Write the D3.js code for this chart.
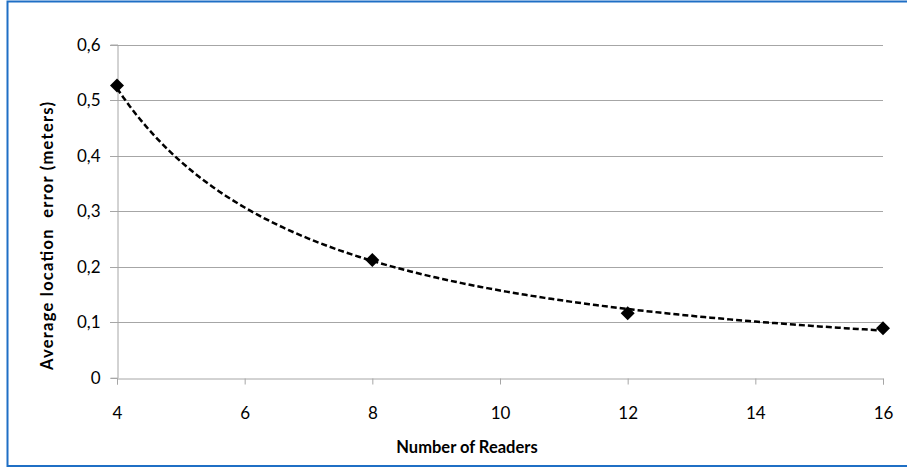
<!DOCTYPE html>
<html><head><meta charset="utf-8">
<script src="https://cdn.jsdelivr.net/npm/d3@7"></script>
<style>
html,body{margin:0;padding:0;background:#fff;}
svg{display:block;}
</style></head>
<body>
<svg id="chart" width="907" height="468"></svg>
<script>
const readers = [4, 8, 12, 16];
const errors = [0.526, 0.212, 0.116, 0.089];
const xTicks = [4, 6, 8, 10, 12, 14, 16];
const yTicks = [0, 0.1, 0.2, 0.3, 0.4, 0.5, 0.6];
const xTitle = "Number of Readers";
const yTitle = "Average location  error (meters)";

const svg = d3.select("#chart");
const W = 907, H = 468;
const m = {left: 117, right: 24, top: 44.5, bottom: 90.3};

svg.append("rect").attr("x", 7.5).attr("y", 1.5).attr("width", 910).attr("height", 464.5)
  .attr("fill", "#fff").attr("stroke", "#1f6fc5").attr("stroke-width", 2);

const x = d3.scaleLinear().domain([4, 16]).range([m.left, W - m.right]);
const y = d3.scaleLinear().domain([0, 0.6]).range([H - m.bottom, m.top]);

const font = "Lato, 'Open Sans', sans-serif";
const grid = "#a6a6a6";

// gridlines
svg.append("g").selectAll("line").data(yTicks.filter(d => d > 0)).join("line")
  .attr("x1", x(4) - 7).attr("x2", x(16))
  .attr("y1", d => Math.round(y(d)) + 0.5).attr("y2", d => Math.round(y(d)) + 0.5)
  .attr("stroke", grid).attr("stroke-width", 1);

// y axis
const yAxis = svg.append("g").attr("transform", `translate(${Math.round(x(4)) + 0.5},0)`)
  .call(d3.axisLeft(y).tickValues(yTicks).tickSize(7).tickPadding(10)
    .tickFormat(d => d === 0 ? "0" : d3.format(".1f")(d).replace(".", ",")));
yAxis.select(".domain").attr("stroke", grid);
yAxis.selectAll(".tick line").attr("stroke", grid);
yAxis.selectAll(".tick").attr("transform", d => `translate(0,${Math.round(y(d)) + 0.5})`);
yAxis.selectAll("text").attr("font-family", font).attr("font-size", 17).attr("fill", "#000");

// x axis
const xAxis = svg.append("g").attr("transform", `translate(0,${Math.round(y(0)) + 0.5})`)
  .call(d3.axisBottom(x).tickValues(xTicks).tickSize(6).tickPadding(22));
xAxis.select(".domain").attr("stroke", grid);
xAxis.selectAll(".tick line").attr("stroke", grid);
xAxis.selectAll("text").attr("font-family", font).attr("font-size", 17).attr("fill", "#000");

// power trendline fitted from the data (least squares on log-log)
const lx = readers.map(Math.log), ly = errors.map(Math.log);
const mx = d3.mean(lx), my = d3.mean(ly);
const b = d3.sum(lx.map((v, i) => (v - mx) * (ly[i] - my))) / d3.sum(lx.map(v => (v - mx) ** 2));
const a = Math.exp(my - b * mx);
const trendX = d3.range(4, 16.001, 0.1);
svg.append("path")
  .attr("d", d3.line().x(d => x(d)).y(d => y(a * Math.pow(d, b)))(trendX))
  .attr("fill", "none").attr("stroke", "#000").attr("stroke-width", 2.5)
  .attr("stroke-dasharray", "6,3");

// markers
const r = 7;
svg.append("g").selectAll("path").data(readers).join("path")
  .attr("d", (d, i) => {
    const cx = x(d), cy = y(errors[i]);
    return `M${cx},${cy - r}L${cx + r},${cy}L${cx},${cy + r}L${cx - r},${cy}Z`;
  })
  .attr("fill", "#000");

// titles
svg.append("text").attr("x", 467).attr("y", 453).attr("text-anchor", "middle")
  .attr("font-family", font).attr("font-weight", "bold").attr("font-size", 16.5)
  .attr("fill", "#000").text(xTitle);
svg.append("text").attr("transform", "translate(53,236) rotate(-90)")
  .attr("text-anchor", "middle").attr("font-family", font).attr("font-weight", "bold")
  .attr("font-size", 16.5).attr("fill", "#000").attr("xml:space", "preserve")
  .attr("textLength", 268).attr("lengthAdjust", "spacing")
  .style("white-space", "pre").text(yTitle);
</script>
</body></html>
